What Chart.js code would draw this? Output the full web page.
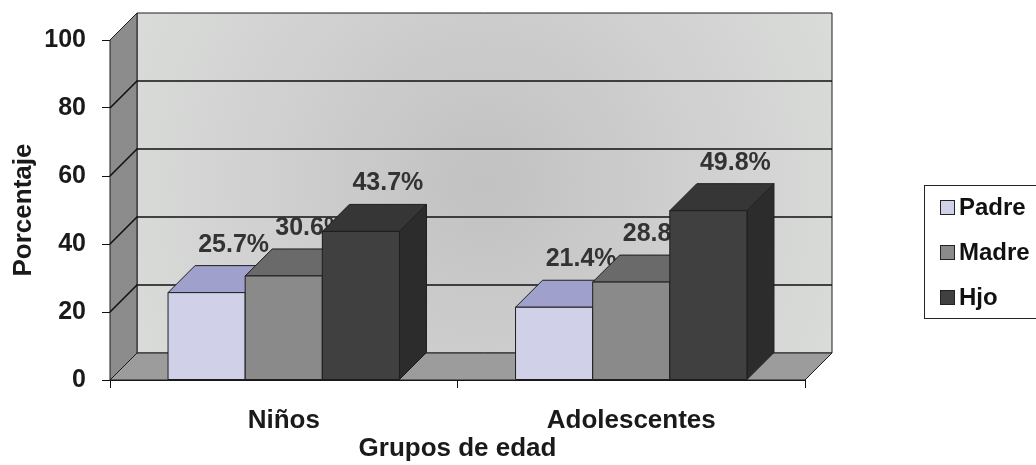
<!DOCTYPE html>
<html>
<head>
<meta charset="utf-8">
<script src="https://cdn.jsdelivr.net/npm/chart.js@4"></script>
<style>
  html, body { margin: 0; padding: 0; background: #fff; }
  #wrap { width: 1036px; height: 465px; }
</style>
</head>
<body>
<div id="wrap"><canvas id="chart" width="1036" height="465"></canvas></div>
<script>
const categories = ["Niños", "Adolescentes"];
const seriesNames = ["Padre", "Madre", "Hjo"];
const padre = [25.7, 21.4];
const madre = [30.6, 28.8];
const hijo = [43.7, 49.8];
const yTicks = [0, 20, 40, 60, 80, 100];

const FONT = "'Liberation Sans', Arial, sans-serif";
const DEPTH = 27; // 3d offset, px right and up
const EDGE = "#1e1e1e";

const faceColors = [
  { front: "#d0d0e8", top: "#a0a0cc", side: "#8c8cb4" },
  { front: "#8a8a8a", top: "#6a6a6a", side: "#5c5c5c" },
  { front: "#404040", top: "#363636", side: "#2c2c2c" },
];

function poly(ctx, pts, fill) {
  ctx.beginPath();
  ctx.moveTo(pts[0][0], pts[0][1]);
  for (let i = 1; i < pts.length; i++) ctx.lineTo(pts[i][0], pts[i][1]);
  ctx.closePath();
  ctx.fillStyle = fill;
  ctx.fill();
  ctx.stroke();
}

function drawBox(ctx, x0, x1, top, base, c) {
  const d = DEPTH;
  poly(ctx, [[x1, top], [x1 + d, top - d], [x1 + d, base - d], [x1, base]], c.side);
  poly(ctx, [[x0, top], [x0 + d, top - d], [x1 + d, top - d], [x1, top]], c.top);
  poly(ctx, [[x0, top], [x1, top], [x1, base], [x0, base]], c.front);
}

const box3d = {
  id: "box3d",
  beforeDatasetsDraw(chart) {
    const { ctx, chartArea: a, scales: { y } } = chart;
    const d = DEPTH;
    ctx.save();
    ctx.strokeStyle = EDGE;
    ctx.lineWidth = 1;

    // back wall
    const cx = (a.left + a.right) / 2 + d;
    const cy = (a.top + a.bottom) / 2 - d;
    const g = ctx.createRadialGradient(cx, cy, 10, cx, cy, 420);
    g.addColorStop(0, "#c2c2c2");
    g.addColorStop(1, "#dcdedc");
    poly(ctx, [[a.left + d, a.top - d], [a.right + d, a.top - d], [a.right + d, a.bottom - d], [a.left + d, a.bottom - d]], g);

    // left wall + floor
    poly(ctx, [[a.left, a.top], [a.left + d, a.top - d], [a.left + d, a.bottom - d], [a.left, a.bottom]], "#8c8c8c");
    poly(ctx, [[a.left, a.bottom], [a.left + d, a.bottom - d], [a.right + d, a.bottom - d], [a.right, a.bottom]], "#9c9c9c");

    // gridlines on the walls
    ctx.strokeStyle = "#111";
    ctx.lineWidth = 1.6;
    yTicks.forEach(v => {
      if (v === 0 || v === 100) return;
      const py = y.getPixelForValue(v);
      ctx.beginPath();
      ctx.moveTo(a.left, py);
      ctx.lineTo(a.left + d, py - d);
      ctx.lineTo(a.right + d, py - d);
      ctx.stroke();
    });
    ctx.restore();
  },
  afterDatasetsDraw(chart) {
    const { ctx } = chart;
    ctx.save();
    ctx.strokeStyle = EDGE;
    ctx.lineWidth = 1;
    chart.data.datasets.forEach((ds, i) => {
      const meta = chart.getDatasetMeta(i);
      meta.data.forEach(el => {
        const p = el.getProps(["x", "y", "base", "width"], true);
        drawBox(ctx, p.x - p.width / 2, p.x + p.width / 2, p.y, p.base, faceColors[i]);
      });
      // value labels of this series, later series may cover them
      ctx.font = "bold 25px " + FONT;
      ctx.fillStyle = "#333";
      ctx.textAlign = "center";
      ctx.textBaseline = "middle";
      meta.data.forEach((el, j) => {
        const p = el.getProps(["x", "y"], true);
        ctx.fillText(ds.data[j].toFixed(1) + "%", p.x + DEPTH, p.y - 48);
      });
    });
    ctx.restore();
  },
  afterDraw(chart) {
    const { ctx } = chart;
    const lx = 924, ly = 185, lw = 160, lh = 133;
    ctx.save();
    ctx.fillStyle = "#fff";
    ctx.strokeStyle = "#222";
    ctx.lineWidth = 1;
    ctx.fillRect(lx, ly, lw, lh);
    ctx.strokeRect(lx + 0.5, ly + 0.5, lw, lh);
    ctx.font = "bold 24px " + FONT;
    ctx.textBaseline = "middle";
    ctx.textAlign = "left";
    chart.data.datasets.forEach((ds, i) => {
      const yy = ly + 22 + i * 45;
      ctx.fillStyle = faceColors[i].front;
      ctx.fillRect(lx + 16.5, yy - 6.5, 14, 14);
      ctx.strokeRect(lx + 16.5, yy - 6.5, 14, 14);
      ctx.fillStyle = "#111";
      ctx.fillText(ds.label, lx + 35, yy + 1);
    });
    ctx.restore();
  },
};

new Chart(document.getElementById("chart"), {
  type: "bar",
  data: {
    labels: categories,
    datasets: [
      { label: seriesNames[0], data: padre, backgroundColor: faceColors[0].front },
      { label: seriesNames[1], data: madre, backgroundColor: faceColors[1].front },
      { label: seriesNames[2], data: hijo, backgroundColor: faceColors[2].front },
    ],
  },
  options: {
    responsive: false,
    animation: false,
    layout: { padding: { top: 40, right: 231, left: 0, bottom: 0 } },
    datasets: { bar: { categoryPercentage: 0.666, barPercentage: 1, borderWidth: 0 } },
    plugins: { legend: { display: false }, tooltip: { enabled: false } },
    scales: {
      x: {
        grid: { drawOnChartArea: false, tickLength: 8, color: "#111" },
        border: { color: "#111", width: 1 },
        ticks: { color: "#1a1a1a", padding: 17, font: { family: FONT, size: 26, weight: "bold" } },
        title: {
          display: true,
          text: "Grupos de edad",
          color: "#1a1a1a",
          padding: { top: 0, bottom: 1 },
          font: { family: FONT, size: 26, weight: "bold" },
        },
        afterFit(scale) { scale.height = 85; },
      },
      y: {
        min: 0,
        max: 100,
        afterBuildTicks(scale) { scale.ticks = yTicks.map(v => ({ value: v })); },
        grid: { drawOnChartArea: false, tickLength: 8, color: "#111" },
        border: { color: "#111", width: 1 },
        ticks: { color: "#1a1a1a", padding: 16, font: { family: FONT, size: 25, weight: "bold" } },
        title: {
          display: true,
          text: "Porcentaje",
          color: "#1a1a1a",
          padding: { top: 8, bottom: 0 },
          font: { family: FONT, size: 26, weight: "bold" },
        },
        afterFit(scale) { scale.width = 110; },
      },
    },
  },
  plugins: [box3d],
});
</script>
</body>
</html>
